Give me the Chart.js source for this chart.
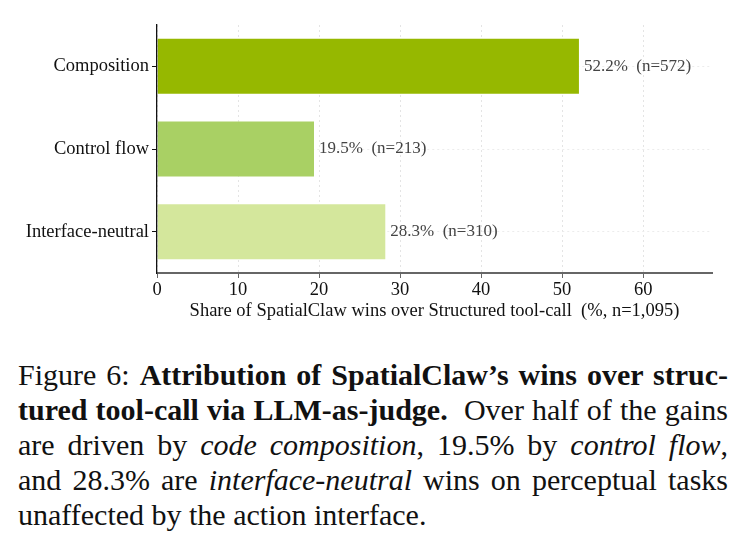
<!DOCTYPE html>
<html>
<head>
<meta charset="utf-8">
<script src="https://cdn.jsdelivr.net/npm/chart.js@4.4.0/dist/chart.umd.min.js"></script>
<style>
  html, body { margin: 0; padding: 0; background: #fff; }
  #wrap { position: relative; width: 742px; height: 549px; overflow: hidden; }
  #chart { position: absolute; left: 0; top: 0; }
  #caption {
    position: absolute; left: 18px; top: 357px; width: 710px;
    font-family: 'Liberation Serif', serif;
    font-size: 30px; line-height: 35px; color: #111;
  }
  #caption div { white-space: nowrap; }
  #caption.ready div { white-space: normal; text-align: justify; text-align-last: justify; }
  #caption.ready div.last { text-align-last: left; }
</style>
</head>
<body>
<div id="wrap">
  <canvas id="chart" width="742" height="330"></canvas>
  <div id="caption">
    <div><span>Figure 6: <b>Attribution of SpatialClaw’s wins over struc-</b></span></div>
    <div><span><b>tured tool-call via LLM-as-judge.</b>&nbsp; Over half of the gains</span></div>
    <div><span>are driven by <i>code composition</i>, 19.5% by <i>control flow</i>,</span></div>
    <div><span>and 28.3% are <i>interface-neutral</i> wins on perceptual tasks</span></div>
    <div class="last"><span>unaffected by the action interface.</span></div>
  </div>
</div>
<script>
const categories = ['Composition', 'Control flow', 'Interface-neutral'];
const shares = [52.2, 19.5, 28.3];
const counts = [572, 213, 310];
const xTicks = [0, 10, 20, 30, 40, 50, 60];
const xTitle = 'Share of SpatialClaw wins over Structured tool-call  (%, n=1,095)';

const serif = "'Liberation Serif', 'Times New Roman', serif";

// shrink caption font if a line would not fit, then justify
const caption = document.getElementById('caption');
let widest = 0;
caption.querySelectorAll('span').forEach((s) => { widest = Math.max(widest, s.getBoundingClientRect().width); });
if (widest > 708) {
  caption.style.fontSize = `${(30 * 708 / widest).toFixed(2)}px`;
}
caption.classList.add('ready');

// value labels at the end of each bar
const barLabels = {
  id: 'barLabels',
  afterDatasetsDraw(chart) {
    const { ctx } = chart;
    const meta = chart.getDatasetMeta(0);
    ctx.save();
    ctx.font = `17px ${serif}`;
    ctx.fillStyle = '#444';
    ctx.textBaseline = 'middle';
    ctx.textAlign = 'left';
    meta.data.forEach((bar, i) => {
      ctx.fillText(`${shares[i].toFixed(1)}%  (n=${counts[i]})`, bar.x + 4, bar.y);
    });
    ctx.restore();
  },
};

new Chart(document.getElementById('chart'), {
  type: 'bar',
  data: {
    labels: categories,
    datasets: [{
      data: shares,
      backgroundColor: ['#96b800', '#a9d064', '#d4e79c'],
      borderColor: 'rgba(255,255,255,0.35)',
      borderWidth: 1,
      borderSkipped: 'left',
      categoryPercentage: 1,
      barPercentage: 0.69,
    }],
  },
  options: {
    indexAxis: 'y',
    responsive: false,
    animation: false,
    layout: { padding: { top: 25, right: 30, left: 0, bottom: 0 } },
    plugins: {
      legend: { display: false },
      tooltip: { enabled: false },
    },
    scales: {
      x: {
        min: 0,
        max: 68.5,
        afterBuildTicks(axis) {
          axis.ticks = xTicks.map((v) => ({ value: v }));
        },
        afterFit(axis) { axis.height = 57; },
        grid: {
          color: '#e4e4e4',
          lineWidth: 1,
          tickColor: '#666',
          tickLength: 5,
          tickWidth: 1,
        },
        border: { color: '#666', width: 2, dash: [2, 3], z: 1 },
        ticks: {
          color: '#111',
          padding: 1,
          maxRotation: 0,
          font: { family: serif, size: 18.5 },
        },
        title: {
          display: true,
          text: xTitle,
          color: '#111',
          padding: { top: 0, bottom: 8 },
          font: { family: serif, size: 18.5 },
        },
      },
      y: {
        offset: true,
        afterFit(axis) { axis.width = 157; },
        grid: {
          offset: false,
          color: '#ececec',
          lineWidth: 1,
          tickColor: '#111',
          tickLength: 5,
          tickWidth: 1,
        },
        border: { color: '#111', width: 1.3, dash: [2, 3], z: 1 },
        ticks: {
          color: '#111',
          padding: 3,
          font: { family: serif, size: 18.5 },
        },
      },
    },
  },
  plugins: [barLabels],
});
</script>
</body>
</html>
